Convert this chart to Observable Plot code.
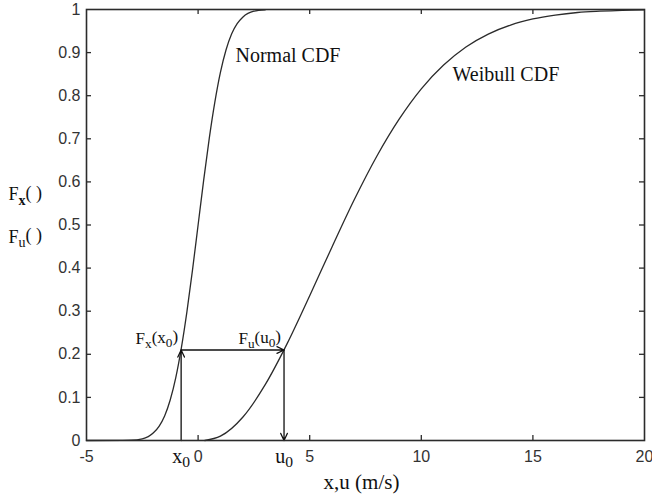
<!DOCTYPE html>
<html><head><meta charset="utf-8">
<script src="https://cdn.jsdelivr.net/npm/d3@7"></script>
<script src="https://cdn.jsdelivr.net/npm/@observablehq/plot@0.6"></script>
<style>body{margin:0;background:#fff}#chart svg{display:block}</style>
</head><body><div id="chart"></div>
<script>
// Normal CDF
const normalX = [-5, -3, -2.5, -2, -1.75, -1.5, -1.25, -1, -0.75, -0.5, -0.25, 0, 0.25, 0.5, 0.75, 1, 1.25, 1.5, 1.75, 2, 2.5, 3];
const normalF = [0, 0.001, 0.004, 0.018, 0.033, 0.057, 0.094, 0.146, 0.215, 0.299, 0.396, 0.5, 0.604, 0.701, 0.785, 0.854, 0.906, 0.943, 0.967, 0.982, 0.996, 0.999];
// Weibull CDF
const weibullU = [0.3, 1, 2, 3, 4, 5, 6, 7, 8, 9, 10, 11, 12, 13, 14, 15, 16, 17, 18, 19, 20];
const weibullF = [0, 0.010, 0.054, 0.129, 0.226, 0.336, 0.449, 0.559, 0.659, 0.745, 0.816, 0.871, 0.913, 0.943, 0.964, 0.978, 0.987, 0.993, 0.996, 0.998, 0.999];
const xTicks = [-5, 0, 5, 10, 15, 20];
const yTicks = [0, 0.1, 0.2, 0.3, 0.4, 0.5, 0.6, 0.7, 0.8, 0.9, 1];
const x0 = -0.76, u0 = 3.85, F0 = 0.21;
const curveNames = ["Normal CDF", "Weibull CDF"];
const curveNameX = [1.675, 11.4];
const curveNameY = [0.879, 0.835];
const leftLabels = ["F_*{x}( )", "F_{u}( )"];
const leftLabelY = [0.557, 0.459];
const pointLabels = ["F_{x}(x_{0})", "F_{u}(u_{0})"];
const axisPointLabels = ["x_{0}", "u_{0}"];
const xLabel = "x,u (m/s)";

const normal = normalX.map((x, i) => ({x, y: normalF[i]}));
const weibull = weibullU.map((x, i) => ({x, y: weibullF[i]}));
const names = curveNames.map((t, i) => ({t, x: curveNameX[i], y: curveNameY[i]}));
const lefts = leftLabels.map((t, i) => ({t, y: leftLabelY[i]}));
const points = [{t: pointLabels[0], x: x0}, {t: pointLabels[1], x: u0}];
const axPts = [{t: axisPointLabels[0], x: x0}, {t: axisPointLabels[1], x: u0}];
const arrows = [
  {x1: x0, y1: 0, x2: x0, y2: F0},
  {x1: x0, y1: F0, x2: u0, y2: F0},
  {x1: u0, y1: F0, x2: u0, y2: 0}
];
const inner = xTicks.slice(1, -1);
const innerY = yTicks.slice(1, -1);
const serif = "'Liberation Serif', 'Times New Roman', serif";
const ink = "#2b2b2b";

const chart = Plot.plot({
  width: 652, height: 497,
  marginLeft: 86, marginRight: 8, marginTop: 9, marginBottom: 57,
  x: {domain: [-5, 20]},
  y: {domain: [0, 1]},
  style: {background: "white", fontFamily: "'Liberation Sans', Arial, sans-serif", fontSize: "16px", color: "#333"},
  marks: [
    Plot.axisX({ticks: xTicks, tickSize: 0, tickPadding: 10, label: null, tickFormat: d => String(d), fontSize: 16}),
    Plot.axisY({ticks: yTicks, tickSize: 0, tickPadding: 6, label: null, tickFormat: d => String(d), fontSize: 16}),
    Plot.tickX(inner, {x: d => d, insetTop: 426, stroke: ink, strokeWidth: 1.3}),
    Plot.tickX(inner, {x: d => d, insetBottom: 426, stroke: ink, strokeWidth: 1.3}),
    Plot.tickY(innerY, {y: d => d, insetRight: 553, stroke: ink, strokeWidth: 1.3}),
    Plot.tickY(innerY, {y: d => d, insetLeft: 553, stroke: ink, strokeWidth: 1.3}),
    Plot.line(normal, {x: "x", y: "y", curve: "monotone-x", stroke: ink, strokeWidth: 1.3}),
    Plot.line(weibull, {x: "x", y: "y", curve: "monotone-x", stroke: ink, strokeWidth: 1.3}),
    Plot.arrow(arrows, {x1: "x1", y1: "y1", x2: "x2", y2: "y2", stroke: "#111", strokeWidth: 1.3, headLength: 9, headAngle: 50}),
    Plot.frame({stroke: ink, strokeWidth: 1.6}),
    Plot.text(names, {x: "x", y: "y", text: "t", textAnchor: "start", lineAnchor: "bottom", fontFamily: serif, fontSize: 20, fill: "#111"}),
    Plot.text(lefts, {x: () => -5, y: "y", text: "t", dx: -78, textAnchor: "start", lineAnchor: "bottom", fontFamily: serif, fontSize: 18, fill: "#111"}),
    Plot.text(points, {x: "x", y: () => F0, text: "t", dx: -3, dy: -6, textAnchor: "end", lineAnchor: "bottom", fontFamily: serif, fontSize: 17, fill: "#111"}),
    Plot.text(axPts, {x: "x", y: () => 0, text: "t", dy: 22, textAnchor: "middle", lineAnchor: "bottom", fontFamily: serif, fontSize: 20, fill: "#111"}),
    Plot.text([xLabel], {frameAnchor: "bottom", text: d => d, dx: -4, dy: 48, lineAnchor: "bottom", fontFamily: serif, fontSize: 21, fill: "#111"})
  ]
});

// turn "_{..}" into real subscript tspans ("_*{..}" = bold)
d3.select(chart).selectAll("text").each(function() {
  const s = this.textContent;
  if (!s.includes("_")) return;
  const el = d3.select(this);
  el.text(null);
  const re = /_(\*?)\{([^}]*)\}|[^_]+/g;
  let m, shifted = false;
  while ((m = re.exec(s))) {
    if (m[2] !== undefined) {
      const t = el.append("tspan").attr("dy", "0.3em").attr("font-size", "78%").text(m[2]);
      if (m[1]) t.attr("font-weight", "bold");
      shifted = true;
    } else {
      const t = el.append("tspan").text(m[0]);
      if (shifted) { t.attr("dy", "-0.3em"); shifted = false; }
    }
  }
});

document.getElementById("chart").append(chart);
</script>
</body></html>
